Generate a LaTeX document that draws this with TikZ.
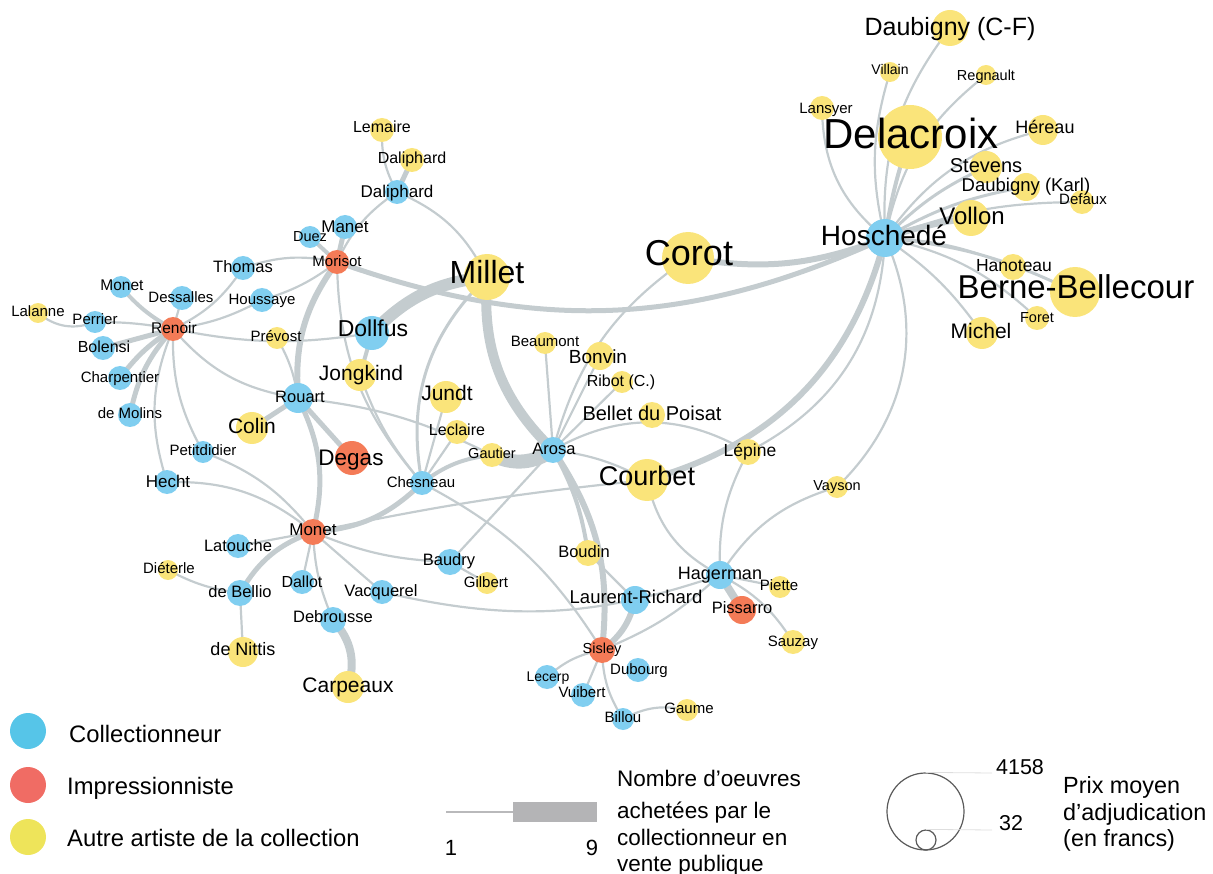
\documentclass[tikz,border=0pt]{standalone}
\usepackage{fontspec}
\setmainfont{Liberation Sans}
\pgfdeclarelayer{bg}
\pgfdeclarelayer{fg}
\pgfsetlayers{bg,main,fg}
\definecolor{nblue}{RGB}{128,206,240}
\definecolor{nred}{RGB}{244,123,87}
\definecolor{nyel}{RGB}{250,228,122}
\definecolor{edgec}{RGB}{196,204,207}
\definecolor{lblue}{RGB}{86,197,232}
\definecolor{lred}{RGB}{240,108,100}
\definecolor{lyel}{RGB}{238,228,90}
\definecolor{wline}{RGB}{185,185,187}
\definecolor{wbar}{RGB}{180,180,182}
\definecolor{circc}{RGB}{90,90,90}
\definecolor{tickc}{RGB}{222,222,222}
\newcommand\fsz[1]{\fontsize{#1}{#1}\selectfont}
\tikzset{
  cb/.style={circle, fill=nblue, inner sep=0pt},
  cr/.style={circle, fill=nred, inner sep=0pt},
  cy/.style={circle, fill=nyel, inner sep=0pt},
  lab/.style={inner sep=0pt, text=black},
  ed/.style={draw=edgec, line width=#1},
  ed/.default=2.2,
}
\newcommand\nd[9]{%
  \node[#2, minimum size={2*#5}] (#1) at (#3,-#4) {};
  \begin{pgfonlayer}{fg}
  \node[lab, font=\fsz{#8}, anchor=base] (#1-l) at (#6,{-(#7+0.36*#8)}) {#9};
  \end{pgfonlayer}}
\newcommand\E[4][]{\draw[ed=#2,#1] (#3.center) to (#4.center);}
\begin{document}
\begin{tikzpicture}[x=1pt,y=1pt]
\useasboundingbox (0,0) rectangle (1213,-874);
% ---------- yellow artists
\nd{lalanne}{cy}{38}{313}{10}{38}{311}{15}{Lalanne}
\nd{lemaire}{cy}{382}{130}{12}{382}{127}{16}{Lemaire}
\nd{daliphY}{cy}{412}{160}{12}{412}{158}{16}{Daliphard}
\nd{prevost}{cy}{277}{338}{11}{276}{336}{15}{Prévost}
\nd{millet}{cy}{487}{277}{23}{487}{272}{32}{Millet}
\nd{jongkind}{cy}{360}{375}{16}{361}{373}{21}{Jongkind}
\nd{colin}{cy}{252}{428}{16}{252}{426}{21}{Colin}
\nd{jundt}{cy}{446}{397}{16}{447}{393}{21}{Jundt}
\nd{leclaire}{cy}{457}{432}{12}{457}{430}{16}{Leclaire}
\nd{gautier}{cy}{492}{455}{12}{492}{453}{14.5}{Gautier}
\nd{beaumont}{cy}{545}{343}{11}{545}{341}{15}{Beaumont}
\nd{bonvin}{cy}{600}{356}{14}{598}{357}{19}{Bonvin}
\nd{ribot}{cy}{622}{382}{11}{621}{381}{16}{Ribot (C.)}
\nd{bellet}{cy}{652}{415}{13}{652}{413}{20}{Bellet du Poisat}
\nd{courbet}{cy}{647}{480}{21}{647}{476}{27}{Courbet}
\nd{lepine}{cy}{748}{452}{13}{750}{450}{17.5}{Lépine}
\nd{vayson}{cy}{837}{487}{11}{837}{485}{14.5}{Vayson}
\nd{boudin}{cy}{588}{553}{13}{584}{552}{16.5}{Boudin}
\nd{gilbert}{cy}{487}{583}{11}{486}{582}{15}{Gilbert}
\nd{piette}{cy}{780}{587}{11}{779}{585}{15}{Piette}
\nd{sauzay}{cy}{793}{642}{12}{793}{641}{15}{Sauzay}
\nd{gaume}{cy}{687}{710}{11}{689}{708}{15}{Gaume}
\nd{dieterle}{cy}{168}{570}{10}{169}{568}{15}{Diéterle}
\nd{denittis}{cy}{243}{652}{15}{243}{649}{18}{de Nittis}
\nd{carpeaux}{cy}{348}{687}{16}{348}{685}{21}{Carpeaux}
\nd{corot}{cy}{688}{258}{26}{689}{253}{36}{Corot}
\nd{daubCF}{cy}{950}{28}{18}{950}{27}{25}{Daubigny (C-F)}
\nd{villain}{cy}{890}{72}{10}{890}{69}{14}{Villain}
\nd{regnault}{cy}{986}{75}{10}{986}{75}{14.5}{Regnault}
\nd{lansyer}{cy}{822}{108}{12}{826}{108}{15}{Lansyer}
\nd{delacroix}{cy}{910}{137}{32}{911}{133}{42}{Delacroix}
\nd{hereau}{cy}{1043}{130}{15}{1045}{127}{18}{Héreau}
\nd{stevens}{cy}{986}{167}{16}{986}{165}{20}{Stevens}
\nd{daubK}{cy}{1026}{187}{14}{1026}{185}{18.5}{Daubigny (Karl)}
\nd{defaux}{cy}{1082}{202}{12}{1083}{199}{15}{Defaux}
\nd{vollon}{cy}{971}{218}{18}{972}{216}{24}{Vollon}
\nd{hanoteau}{cy}{1013}{267}{13}{1014}{265}{17.5}{Hanoteau}
\nd{berne}{cy}{1075}{292}{25}{1076}{287}{33}{Berne-Bellecour}
\nd{foret}{cy}{1037}{318}{12}{1037}{317}{14.5}{Foret}
\nd{michel}{cy}{982}{333}{16}{981}{331}{21}{Michel}
% ---------- red impressionists
\nd{renoir}{cr}{173}{329}{12}{174}{328}{15.5}{Renoir}
\nd{morisot}{cr}{337}{262}{12}{337}{261}{15}{Morisot}
\nd{degas}{cr}{352}{458}{17}{351}{457}{22.5}{Degas}
\nd{monetR}{cr}{313}{532}{13}{313}{529}{17}{Monet}
\nd{sisley}{cr}{602}{650}{13}{602}{648}{14.5}{Sisley}
\nd{pissarro}{cr}{742}{610}{14}{742}{608}{16.5}{Pissarro}
% ---------- blue collectors
\nd{monetC}{cb}{121}{287}{11}{122}{285}{15.5}{Monet}
\nd{perrier}{cb}{95}{322}{11}{95}{319}{15}{Perrier}
\nd{dessalles}{cb}{182}{298}{12}{181}{297}{15}{Dessalles}
\nd{bolensi}{cb}{103}{348}{12}{104}{347}{16}{Bolensi}
\nd{charpentier}{cb}{120}{378}{12}{120}{377}{15}{Charpentier}
\nd{demolins}{cb}{130}{415}{12}{130}{413}{15}{de Molins}
\nd{hecht}{cb}{167}{482}{12}{168}{481}{17}{Hecht}
\nd{petitdidier}{cb}{203}{452}{11}{203}{450}{15}{Petitdidier}
\nd{thomas}{cb}{243}{268}{12}{243}{267}{16.5}{Thomas}
\nd{houssaye}{cb}{262}{300}{12}{262}{299}{15}{Houssaye}
\nd{duez}{cb}{310}{237}{11}{310}{236}{14.5}{Duez}
\nd{manet}{cb}{345}{227}{12}{345}{226}{17}{Manet}
\nd{daliphB}{cb}{397}{192}{12}{397}{191}{17}{Daliphard}
\nd{dollfus}{cb}{372}{333}{17}{373}{328}{23}{Dollfus}
\nd{rouart}{cb}{298}{398}{15}{300}{397}{16.5}{Rouart}
\nd{chesneau}{cb}{422}{483}{12}{421}{482}{15}{Chesneau}
\nd{arosa}{cb}{553}{450}{13}{554}{449}{16.5}{Arosa}
\nd{latouche}{cb}{238}{546}{12}{238}{546}{16.5}{Latouche}
\nd{debellio}{cb}{240}{593}{13}{240}{592}{16.5}{de Bellio}
\nd{dallot}{cb}{302}{582}{12}{302}{582}{16}{Dallot}
\nd{vacquerel}{cb}{382}{592}{12}{381}{591}{16.5}{Vacquerel}
\nd{debrousse}{cb}{333}{620}{13}{333}{617}{16.5}{Debrousse}
\nd{baudry}{cb}{450}{562}{13}{449}{560}{16.5}{Baudry}
\nd{laurent}{cb}{635}{600}{14}{636}{597}{18.5}{Laurent-Richard}
\nd{hagerman}{cb}{720}{575}{14}{720}{573}{18}{Hagerman}
\nd{lecerp}{cb}{547}{677}{12}{548}{676}{14}{Lecerp}
\nd{dubourg}{cb}{638}{670}{12}{639}{669}{15}{Dubourg}
\nd{vuibert}{cb}{583}{695}{12}{582}{692}{15}{Vuibert}
\nd{billou}{cb}{623}{719}{11}{623}{717}{15}{Billou}
\nd{hoschede}{cb}{885}{238}{19}{884}{235}{28}{Hoschedé}
% ---------- edges
\begin{pgfonlayer}{bg}
% Hoschede
\E[bend left=20]{2.2}{hoschede}{daubCF}
\E[bend left=15]{2.2}{hoschede}{villain}
\E[bend left=25]{2.2}{hoschede}{lansyer}
\E[bend left=20]{2.2}{hoschede}{regnault}
\E[bend left=5]{4}{hoschede}{delacroix}
\E[bend left=20]{2.2}{hoschede}{hereau}
\E[bend left=10]{3}{hoschede}{stevens}
\E[bend left=10]{3}{hoschede}{daubK}
\E[bend left=10]{2.2}{hoschede}{defaux}
\E[bend left=5]{6}{hoschede}{vollon}
\E[bend left=10]{2.2}{hoschede}{hanoteau}
\E[bend left=10]{3}{hoschede}{berne}
\E[bend left=15]{2.2}{hoschede}{foret}
\E[bend left=10]{2.2}{hoschede}{michel}
\E[bend left=15]{6}{hoschede}{corot}
\E[bend left=22]{5}{hoschede}{morisot}
\E[bend left=30]{6}{hoschede}{courbet}
\E[bend left=30]{2.2}{hoschede}{lepine}
\E[bend left=35]{2.2}{hoschede}{vayson}
% Renoir
\E[bend left=10]{4}{renoir}{monetC}
\E{2.2}{renoir}{dessalles}
\E[bend right=5]{2.2}{renoir}{perrier}
\E{5}{renoir}{bolensi}
\E[bend right=10]{5}{renoir}{charpentier}
\E[bend right=15]{5}{renoir}{demolins}
\E[bend right=20]{2.2}{renoir}{hecht}
\E[bend right=15]{2.2}{renoir}{petitdidier}
\E[bend right=20]{2.2}{renoir}{rouart}
\E[bend right=10]{2.2}{renoir}{dollfus}
\E[bend right=15]{2.2}{renoir}{thomas}
\E[bend right=10]{2.2}{renoir}{houssaye}
\E[bend left=30]{2.2}{perrier}{lalanne}
% Morisot
\E{4}{morisot}{duez}
\E{5}{morisot}{manet}
\E[bend right=15]{2.2}{daliphB}{morisot}
\E[bend left=15]{2.2}{thomas}{morisot}
\E[bend right=10]{2.2}{houssaye}{morisot}
\E[bend right=20]{6}{morisot}{rouart}
\E[bend right=20]{2.2}{morisot}{chesneau}
% Daliphard
\E{5}{daliphB}{daliphY}
\E[bend left=15]{2.2}{daliphB}{lemaire}
\E[bend left=20]{2.2}{daliphB}{millet}
% Dollfus
\E[bend left=20]{12}{dollfus}{millet}
\E{4}{dollfus}{jongkind}
% Rouart
\E{5}{rouart}{colin}
\E{5}{rouart}{degas}
\E[bend left=20]{5}{rouart}{monetR}
\E[bend right=10]{2.2}{rouart}{prevost}
\E[bend left=10]{2.2}{rouart}{gautier}
% Chesneau
\E[bend left=20]{5}{chesneau}{monetR}
\E[bend left=28]{3}{chesneau}{millet}
\E{2.2}{chesneau}{jundt}
\E{2.2}{chesneau}{leclaire}
\E[bend left=15]{4}{chesneau}{gautier}
\E[bend left=10]{2.2}{chesneau}{jongkind}
\E[bend left=15]{2.2}{chesneau}{sisley}
% Arosa
\E[bend left=25]{10}{arosa}{millet}
\E[bend left=30]{14}{arosa}{gautier}
\E[bend left=20]{2.2}{arosa}{corot}
\E{2.2}{arosa}{beaumont}
\E{2.2}{arosa}{bonvin}
\E{2.2}{arosa}{ribot}
\E[bend left=30]{2.2}{arosa}{lepine}
\E[bend left=10]{2.2}{arosa}{courbet}
\E[bend left=20]{6}{arosa}{sisley}
\E[bend left=10]{4}{arosa}{boudin}
% Monet (red)
\E{2.2}{monetR}{latouche}
\E[bend right=20]{5}{monetR}{debellio}
\E{2.2}{monetR}{dallot}
\E[bend right=10]{2.2}{monetR}{debrousse}
\E{2.2}{monetR}{vacquerel}
\E[bend right=10]{2.2}{monetR}{baudry}
\E[bend right=20]{2.2}{monetR}{hecht}
\E[bend right=15]{2.2}{monetR}{petitdidier}
\E[bend left=3]{2.2}{monetR}{courbet}
\E[bend right=16]{2.2}{vacquerel}{hagerman}
% others
\E[bend left=10]{2.2}{debellio}{dieterle}
\E{2.2}{debellio}{denittis}
\E[bend left=30]{8}{debrousse}{carpeaux}
\E{2.2}{baudry}{gilbert}
\E{2.2}{baudry}{arosa}
\E[bend left=20]{6}{laurent}{sisley}
\E{2.2}{laurent}{boudin}
\E[bend left=15]{2.2}{hagerman}{lepine}
\E[bend left=25]{2.2}{hagerman}{courbet}
\E[bend left=20]{2.2}{hagerman}{vayson}
\E{2.2}{hagerman}{piette}
\E{8}{hagerman}{pissarro}
\E[bend left=15]{2.2}{hagerman}{sauzay}
\E[bend left=10]{2.2}{hagerman}{sisley}
\E[bend right=15]{2.2}{sisley}{lecerp}
\E{2.2}{sisley}{vuibert}
\E[bend right=15]{2.2}{sisley}{billou}
\E[bend left=20]{2.2}{billou}{gaume}
\end{pgfonlayer}
% ---------- legend
\node[circle, fill=lblue, minimum size=36, inner sep=0] (lg1) at (28,-731) {};
\node[circle, fill=lred, minimum size=36, inner sep=0] (lg2) at (28,-785) {};
\node[circle, fill=lyel, minimum size=36, inner sep=0] (lg3) at (28,-837) {};
\node[lab, font=\fsz{23.8}, anchor=base west] (lgt1) at (69,-742) {Collectionneur};
\node[lab, font=\fsz{23.8}, anchor=base west] (lgt2) at (67,-794) {Impressionniste};
\node[lab, font=\fsz{23.8}, anchor=base west] (lgt3) at (67,-846) {Autre artiste de la collection};
\coordinate (w1a) at (446,-812);
\coordinate (w1b) at (513,-812);
\draw[line width=2, draw=wline] (w1a) -- (w1b);
\fill[wbar] (513,-802) rectangle (597,-822);
\node[lab, font=\fsz{22}, anchor=base] (one) at (451,-855) {1};
\node[lab, font=\fsz{22}, anchor=base] (nine) at (592,-855) {9};
\node[lab, font=\fsz{22.5}, anchor=base west] (wtxt) at (617,-786) {Nombre d’oeuvres};
\node[lab, font=\fsz{22.5}, anchor=base west] (wtxt2) at (617,-818) {achetées par le};
\node[lab, font=\fsz{22.5}, anchor=base west] (wtxt3) at (617,-845) {collectionneur en};
\node[lab, font=\fsz{22.5}, anchor=base west] (wtxt4) at (617,-871) {vente publique};
\node[circle, draw=circc, line width=1.2, minimum size=77, inner sep=0] (bigc) at (925.5,-811.5) {};
\node[circle, draw=circc, line width=1.2, minimum size=20, inner sep=0] (smallc) at (926,-840) {};
\coordinate (t1) at (992,-773);
\coordinate (t2) at (992,-830);
\draw[line width=0.8, draw=tickc] (bigc.north) -- (t1);
\draw[line width=0.8, draw=tickc] (smallc.north) -- (t2);
\node[lab, font=\fsz{21.5}, anchor=base] (v1) at (1020,-774) {4158};
\node[lab, font=\fsz{21.5}, anchor=base] (v2) at (1011,-830) {32};
\node[lab, font=\fsz{23.4}, anchor=base west] (ptxt1) at (1063,-793) {Prix moyen};
\node[lab, font=\fsz{23.4}, anchor=base west] (ptxt2) at (1063,-820) {d’adjudication};
\node[lab, font=\fsz{23.4}, anchor=base west] (ptxt3) at (1063,-846) {(en francs)};
\end{tikzpicture}
\end{document}
